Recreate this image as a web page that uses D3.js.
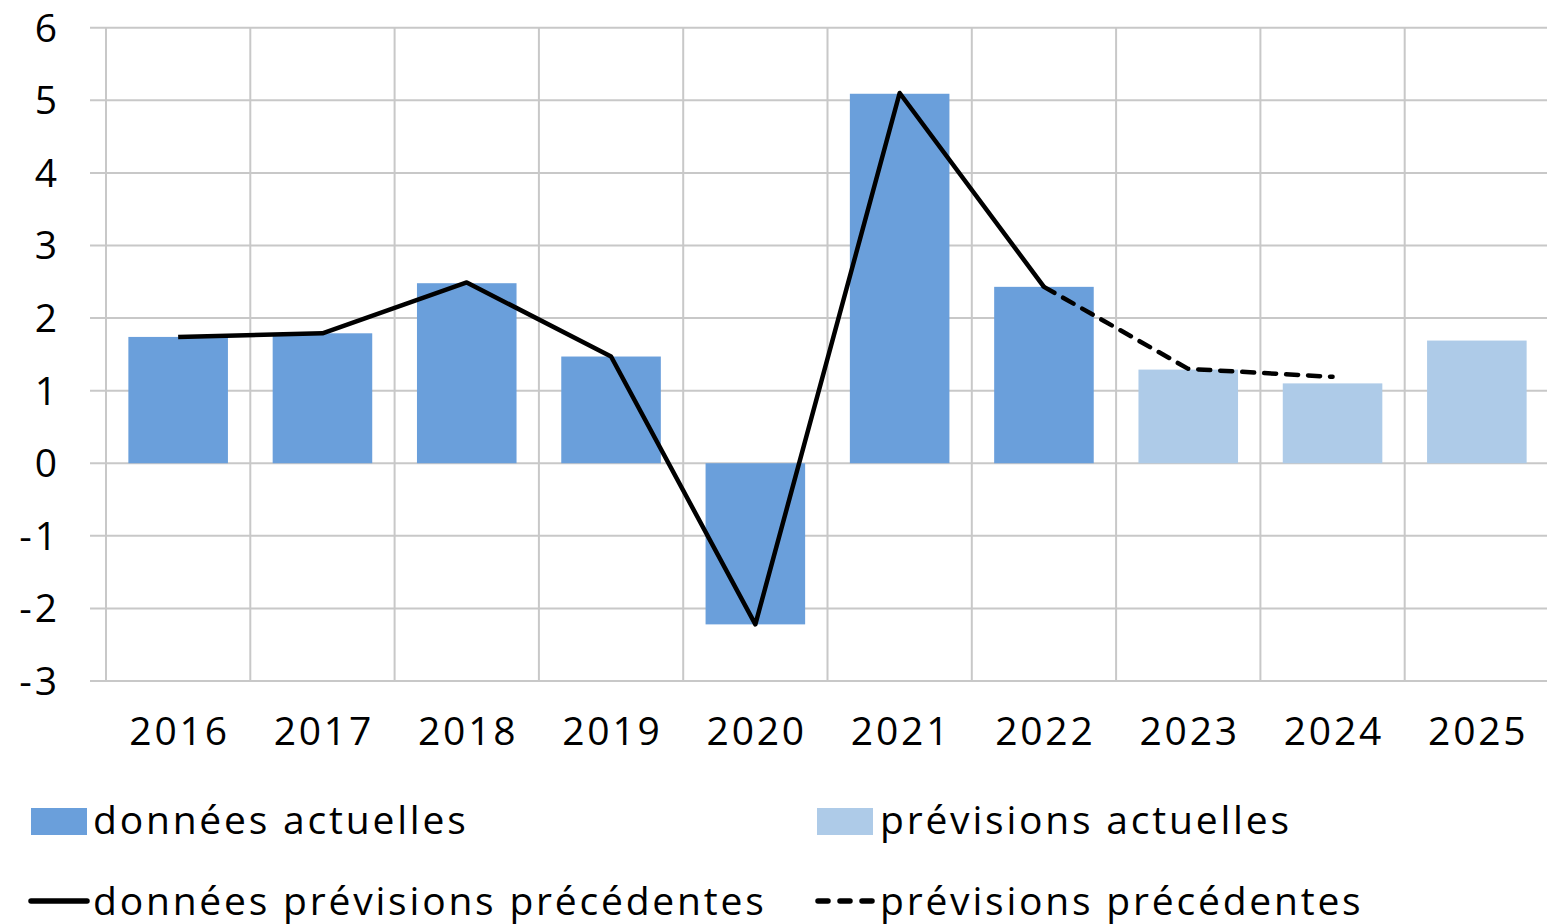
<!DOCTYPE html>
<html>
<head>
<meta charset="utf-8">
<script src="https://cdn.jsdelivr.net/npm/d3@7"></script>
<style>
  body { margin: 0; background: #fff; }
  svg text { font-family: "Open Sans", sans-serif; fill: #000; letter-spacing: 2.8px; }
</style>
</head>
<body>
<div id="chart"></div>
<script>
var years = ["2016", "2017", "2018", "2019", "2020", "2021", "2022", "2023", "2024", "2025"];
var actualData = [1.74, 1.79, 2.48, 1.47, -2.22, 5.09, 2.43, null, null, null];
var actualForecast = [null, null, null, null, null, null, null, 1.29, 1.10, 1.69];
var prevData = [1.74, 1.79, 2.49, 1.47, -2.22, 5.10, 2.43];
var prevForecast = [null, null, null, null, null, null, 2.43, 1.30, 1.19];
var yTicks = [-3, -2, -1, 0, 1, 2, 3, 4, 5, 6];

var width = 1547, height = 924;
var margin = {top: 28, right: 0, bottom: 243, left: 106};
var ls = 2.8, fontSize = 39;

var svg = d3.select("#chart").append("svg")
    .attr("width", width).attr("height", height);

var x = d3.scaleBand().domain(years)
    .range([margin.left, margin.left + 144.3 * years.length])
    .paddingInner(0.31).paddingOuter(0.155);
var y = d3.scaleLinear().domain([-3, 6]).range([681, 27.7]);

// grid
var grid = svg.append("g");
grid.selectAll(".hgrid").data(yTicks).enter().append("line")
    .attr("x1", 90).attr("x2", width)
    .attr("y1", function(d) { return y(d); }).attr("y2", function(d) { return y(d); })
    .attr("stroke", "#c8c8c8").attr("stroke-width", 2);
var step = x.step();
grid.selectAll(".vgrid").data(d3.range(years.length + 1)).enter().append("line")
    .attr("x1", function(i) { return margin.left + i * step; })
    .attr("x2", function(i) { return margin.left + i * step; })
    .attr("y1", y(6)).attr("y2", y(-3))
    .attr("stroke", "#c8c8c8").attr("stroke-width", 2);

// bars
function drawBars(values, color) {
    svg.append("g").selectAll("rect")
        .data(values.map(function(v, i) { return {year: years[i], value: v}; })
            .filter(function(d) { return d.value !== null; }))
        .enter().append("rect")
        .attr("x", function(d) { return x(d.year); })
        .attr("width", x.bandwidth())
        .attr("y", function(d) { return y(Math.max(0, d.value)); })
        .attr("height", function(d) { return Math.abs(y(d.value) - y(0)); })
        .attr("fill", color);
}
drawBars(actualData, "#6a9fdb");
drawBars(actualForecast, "#aecbe8");

// lines
var line = d3.line()
    .defined(function(d) { return d.value !== null; })
    .x(function(d) { return x(d.year) + x.bandwidth() / 2; })
    .y(function(d) { return y(d.value); });

function toPoints(values) {
    return values.map(function(v, i) { return {year: years[i], value: v}; });
}
svg.append("path").datum(toPoints(prevData))
    .attr("d", line).attr("fill", "none")
    .attr("stroke", "#000").attr("stroke-width", 4.5).attr("stroke-linejoin", "round");
svg.append("path").datum(toPoints(prevForecast))
    .attr("d", line).attr("fill", "none")
    .attr("stroke", "#000").attr("stroke-width", 4.5)
    .attr("stroke-dasharray", "12 10").attr("stroke-linecap", "round");

// axes labels
svg.append("g").selectAll("text").data(yTicks).enter().append("text")
    .attr("x", 57 + ls).attr("y", function(d) { return y(d) + 14; })
    .attr("text-anchor", "end").attr("font-size", fontSize)
    .text(function(d) { return d; });

svg.append("g").selectAll("text").data(years).enter().append("text")
    .attr("x", function(d) { return x(d) + x.bandwidth() / 2 + ls / 2; })
    .attr("y", 745).attr("text-anchor", "middle").attr("font-size", fontSize)
    .text(function(d) { return d; });

// legend
var legend = svg.append("g");
legend.append("rect").attr("x", 31).attr("y", 808).attr("width", 56).attr("height", 27).attr("fill", "#6a9fdb");
legend.append("text").attr("x", 93).attr("y", 834).attr("font-size", fontSize).text("données actuelles");
legend.append("rect").attr("x", 817).attr("y", 808).attr("width", 56).attr("height", 27).attr("fill", "#aecbe8");
legend.append("text").attr("x", 880).attr("y", 834).attr("font-size", fontSize).text("prévisions actuelles");
legend.append("line").attr("x1", 31).attr("x2", 87).attr("y1", 901).attr("y2", 901)
    .attr("stroke", "#000").attr("stroke-width", 5.5).attr("stroke-linecap", "round");
legend.append("text").attr("x", 93).attr("y", 915).attr("font-size", fontSize).text("données prévisions précédentes");
legend.append("line").attr("x1", 818).attr("x2", 872).attr("y1", 901).attr("y2", 901)
    .attr("stroke", "#000").attr("stroke-width", 5.5).attr("stroke-linecap", "round")
    .attr("stroke-dasharray", "10 12");
legend.append("text").attr("x", 880).attr("y", 915).attr("font-size", fontSize).text("prévisions précédentes");
</script>
</body>
</html>
